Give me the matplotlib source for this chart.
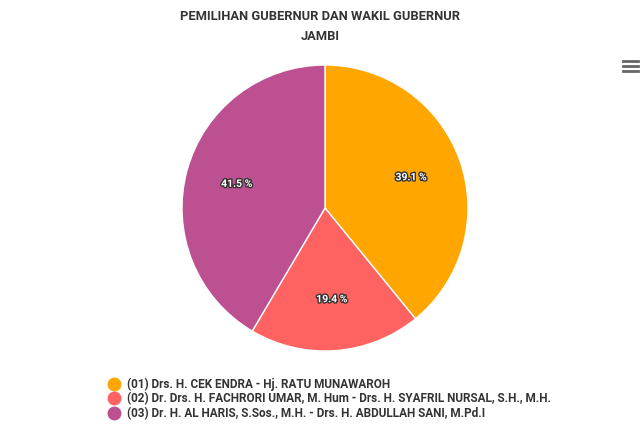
import matplotlib.pyplot as plt
import matplotlib.patheffects as pe
from matplotlib.lines import Line2D

# data
candidates = [
    '(01) Drs. H. CEK ENDRA - Hj. RATU MUNAWAROH',
    '(02) Dr. Drs. H. FACHRORI UMAR, M. Hum - Drs. H. SYAFRIL NURSAL, S.H., M.H.',
    '(03) Dr. H. AL HARIS, S.Sos., M.H. - Drs. H. ABDULLAH SANI, M.Pd.I',
]
shares = [39.1, 19.4, 41.5]
colors = ['#ffa600', '#ff6361', '#bc5090']

plt.rcParams['font.family'] = ['Roboto', 'DejaVu Sans']

fig = plt.figure(figsize=(6.4, 4.26), dpi=100)
ax = fig.add_axes([182 / 640, 1 - 351 / 426, 286 / 640, 286 / 426])

wedges, texts, autotexts = ax.pie(
    shares, colors=colors, startangle=90, counterclock=False,
    autopct=lambda p: '%.1f %%' % p, pctdistance=0.64,
    wedgeprops=dict(edgecolor='white', linewidth=1),
    textprops=dict(color='white', fontsize=7.5, fontweight='bold'))
for t in autotexts:
    t.set_path_effects([pe.withStroke(linewidth=2, foreground='#333333')])
ax.set_xlim(-1, 1)
ax.set_ylim(-1, 1)
ax.set_aspect('equal')

fig.text(0.5, 1 - 17 / 426, 'PEMILIHAN GUBERNUR DAN WAKIL GUBERNUR',
         ha='center', va='center', fontsize=9.3, fontweight='bold',
         color='#333333')
fig.text(0.5, 1 - 37 / 426, 'JAMBI', ha='center', va='center', fontsize=9.3,
         fontweight='bold', color='#333333')

# legend
handles = [Line2D([], [], marker='o', linestyle='', markersize=9,
                  markerfacecolor=c, markeredgecolor=c) for c in colors]
leg = fig.legend(handles, candidates, loc='upper left',
                 bbox_to_anchor=(102 / 640, 1 - 373 / 426), frameon=False,
                 fontsize=8.5, handletextpad=0.5, labelspacing=0.12,
                 handlelength=1.2, borderaxespad=0)
for t in leg.get_texts():
    t.set_color('#333333')
    t.set_fontweight('bold')

# menu icon
for y in [61, 66, 71]:
    fig.add_artist(Line2D([623 / 640, 638 / 640], [1 - y / 426] * 2,
                          color='#666666', linewidth=2))

fig.savefig('out.png', dpi=100)
